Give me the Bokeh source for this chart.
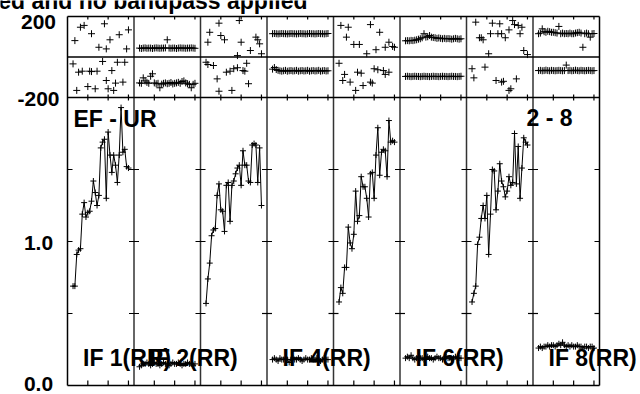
from bokeh.plotting import figure
from bokeh.models import Range1d, Label
from bokeh.embed import file_html
from bokeh.resources import INLINE

# ------------------------------------------------------------------ data
IF_NUMBERS = [1, 2, 3, 4, 5, 6, 7, 8]
CHANNELS = list(range(3, 34))          # channels plotted in every IF
PANEL_CH = 36                          # channel units spanned by one IF panel
CH_TICKS = [11, 22, 33]
AMP_TICKS = [0.5, 1.0, 1.5]
AMP_MAX = 2.0
AMP_LABEL_VALUES = [0.0, 1.0]
AMP_LABELS = ["0.0", "1.0"]
PHASE_MIN, PHASE_MAX = -200, 200
PHASE_LABEL_VALUES = [200, -200]
PHASE_LABELS = ["200", "-200"]

TITLE = "ed and no bandpass applied"
BASELINE = "EF - UR"
TIMERANGE = "2 - 8"
IF_LABEL_IFS = [1, 2, 4, 6, 8]
IF_LABELS = ["IF 1(RR)", "IF 2(RR)", "IF 4(RR)", "IF 6(RR)", "IF 8(RR)"]

# amplitudes, channels 3..33
amp_if1 = [0.69, 0.69, 0.91, 0.94, 0.95, 1.19, 1.27, 1.17, 1.20, 1.21, 1.28, 1.42, 1.34, 1.25, 1.32, 1.65,
           1.69, 1.71, 1.30, 1.76, 1.60, 1.48, 1.60, 1.53, 1.41, 1.60, 1.93, 1.62, 1.64, 1.52, 1.51]
amp_if2 = [0.13, 0.14, 0.15, 0.15, 0.16, 0.15, 0.14, 0.15, 0.16, 0.15, 0.15, 0.14, 0.15, 0.16, 0.15, 0.15,
           0.14, 0.15, 0.16, 0.15, 0.15, 0.16, 0.15, 0.14, 0.15, 0.15, 0.16, 0.15, 0.15, 0.14, 0.15]
amp_if3 = [0.57, 0.74, 0.85, 1.04, 1.08, 1.09, 1.32, 1.40, 1.22, 1.21, 1.07, 1.39, 1.41, 1.14, 1.39, 1.42,
           1.47, 1.51, 1.53, 1.39, 1.63, 1.53, 1.53, 1.42, 1.41, 1.67, 1.68, 1.67, 1.41, 1.65, 1.25]
amp_if4 = [0.18, 0.19, 0.18, 0.17, 0.19, 0.18, 0.18, 0.19, 0.18, 0.16, 0.18, 0.19, 0.18, 0.18, 0.19, 0.18,
           0.17, 0.18, 0.19, 0.18, 0.18, 0.19, 0.18, 0.18, 0.19, 0.18, 0.17, 0.18, 0.19, 0.18, 0.18]
amp_if5 = [0.58, 0.68, 0.64, 0.82, 0.82, 1.10, 0.99, 0.95, 1.05, 1.35, 1.14, 1.18, 1.45, 1.38, 1.38, 1.30,
           1.17, 1.47, 1.48, 1.30, 1.60, 1.79, 1.46, 1.62, 1.64, 1.63, 1.45, 1.84, 1.69, 1.70, 1.69]
amp_if6 = [0.19, 0.20, 0.19, 0.21, 0.19, 0.18, 0.19, 0.20, 0.19, 0.19, 0.18, 0.19, 0.20, 0.19, 0.19, 0.18,
           0.19, 0.20, 0.19, 0.19, 0.18, 0.19, 0.20, 0.19, 0.19, 0.18, 0.19, 0.20, 0.19, 0.19, 0.19]
amp_if7 = [0.58, 0.64, 0.69, 0.98, 1.03, 1.16, 1.25, 1.16, 1.32, 0.91, 1.19, 1.50, 1.49, 1.22, 1.35, 1.54,
           1.42, 1.38, 1.31, 1.35, 1.45, 1.39, 1.41, 1.75, 1.40, 1.66, 1.30, 1.51, 1.72, 1.69, 1.67]
amp_if8 = [0.26, 0.27, 0.26, 0.27, 0.27, 0.28, 0.27, 0.28, 0.28, 0.27, 0.28, 0.29, 0.28, 0.30, 0.28, 0.27,
           0.28, 0.27, 0.28, 0.27, 0.27, 0.28, 0.27, 0.27, 0.26, 0.27, 0.27, 0.26, 0.27, 0.27, 0.26]

# phases (degrees): upper and lower traces of the phase strip
ph_up_ch_if1 = [4, 7, 9, 13, 17, 20, 21, 23, 28, 32, 33]
ph_up_if1 = [81, 147, 156, 115, 48, 164, 40, 85, 110, 40, 134]
ph_lo_ch_if1 = [3, 5, 6, 8, 11, 12, 13, 15, 16, 19, 21, 22, 24, 25, 26, 27, 30, 31]
ph_lo_if1 = [-34, -165, -75, -70, -146, -70, -72, -157, -70, -22, -116, -157, -67, -165, -129, -26, -124, -26]

ph_up_if2 = [44, 42, 44, 45, 43, 44, 44, 42, 44, 45, 44, 43, 44, 44, 45, 85,
             44, 43, 44, 44, 42, 44, 45, 44, 44, 43, 44, 44, 45, 44, 43]
ph_lo_if2 = [-128, -130, -103, -118, -125, -130, -95, -83, -128, -132, -130, -152, -134, -130, -128, -132,
             -130, -126, -133, -130, -128, -125, -130, -121, -118, -128, -132, -135, -152, -135, -130]

ph_up_ch_if3 = [4, 5, 10, 11, 13, 20, 21, 22, 27, 30, 31, 32, 33]
ph_up_if3 = [73, 122, 167, 106, 85, 7, 180, 73, 32, 98, 85, 65, 16]
ph_lo_ch_if3 = [3, 4, 7, 9, 10, 14, 16, 17, 18, 20, 23, 24, 25, 26]
ph_lo_if3 = [-26, -37, -42, -108, -169, -75, -70, -165, -58, -53, -67, -70, -31, -132]

ph_up_if4 = [115, 116, 115, 114, 115, 116, 115, 115, 114, 115, 116, 115, 115, 114, 115, 116,
             115, 115, 114, 115, 116, 115, 115, 114, 115, 116, 115, 115, 114, 115, 116]
ph_lo_if4 = [-60, -52, -62, -66, -68, -70, -68, -66, -70, -68, -67, -69, -68, -66, -70, -68,
             -67, -69, -68, -66, -70, -68, -67, -69, -68, -66, -70, -68, -67, -69, -68]

ph_up_ch_if5 = [4, 7, 8, 11, 14, 18, 20, 23, 25, 28, 30, 32, 33]
ph_up_if5 = [156, 98, 147, 62, 62, 16, 160, 36, 122, 48, 73, 52, 48]
ph_lo_ch_if5 = [3, 5, 6, 9, 12, 13, 15, 16, 20, 21, 22, 24, 27, 28, 30]
ph_lo_if5 = [-31, -116, -86, -124, -165, -75, -80, -141, -124, -129, -58, -63, -67, -86, -75]

ph_up_if6 = [80, 81, 80, 82, 81, 83, 85, 88, 90, 95, 115, 98, 100, 106, 98, 96,
             95, 92, 94, 92, 90, 92, 90, 91, 90, 88, 90, 92, 90, 88, 90]
ph_lo_if6 = [-96, -95, -96, -97, -96, -95, -96, -96, -97, -96, -95, -96, -96, -97, -96, -95,
             -96, -96, -97, -96, -95, -96, -96, -97, -96, -95, -96, -96, -97, -96, -95]

ph_up_ch_if7 = [5, 7, 8, 9, 12, 13, 14, 17, 18, 19, 21, 23, 25, 26, 28, 29, 30, 31, 33]
ph_up_if7 = [172, 95, 95, 85, 16, 115, 167, 115, 164, 115, 95, 134, 180, 160, 156, 115, 147, 32, 12]
ph_lo_ch_if7 = [3, 4, 10, 16, 19, 20, 23, 24, 27]
ph_lo_if7 = [-58, -103, -50, -116, -124, -120, -165, -157, -108]

ph_up_if8 = [115, 118, 139, 125, 122, 127, 125, 122, 122, 120, 118, 151, 115, 118, 115, 116,
             115, 118, 115, 115, 118, 120, 122, 118, 48, 115, 118, 115, 98, 115, 116]
ph_lo_if8 = [-67, -66, -68, -67, -65, -67, -68, -66, -67, -68, -67, -66, -67, -68, -67, -40,
             -67, -66, -68, -67, -65, -67, -68, -66, -67, -68, -67, -66, -67, -68, -67]

AMPS = [amp_if1, amp_if2, amp_if3, amp_if4, amp_if5, amp_if6, amp_if7, amp_if8]
PHASE_UP = [(ph_up_ch_if1, ph_up_if1), (CHANNELS, ph_up_if2), (ph_up_ch_if3, ph_up_if3), (CHANNELS, ph_up_if4),
            (ph_up_ch_if5, ph_up_if5), (CHANNELS, ph_up_if6), (ph_up_ch_if7, ph_up_if7), (CHANNELS, ph_up_if8)]
PHASE_LO = [(ph_lo_ch_if1, ph_lo_if1), (CHANNELS, ph_lo_if2), (ph_lo_ch_if3, ph_lo_if3), (CHANNELS, ph_lo_if4),
            (ph_lo_ch_if5, ph_lo_if5), (CHANNELS, ph_lo_if6), (ph_lo_ch_if7, ph_lo_if7), (CHANNELS, ph_lo_if8)]

# ------------------------------------------------------------------ layout (pixels)
W, H = 640, 394
BOX_L, BOX_R, BOX_T, BOX_B = 67, 599, 16, 385     # the panel box inside the canvas
PHASE_PX = 81                                      # height of the phase strip
N_IF = len(IF_NUMBERS)
X_END = N_IF * PANEL_CH
AMP_PX = (BOX_B - BOX_T) - PHASE_PX
PX_PER_CH = (BOX_R - BOX_L) / X_END
PX_PER_AMP = AMP_PX / AMP_MAX
Y_TOP = AMP_MAX + PHASE_PX / PX_PER_AMP
DEG_PER_UNIT = (PHASE_MAX - PHASE_MIN) / (Y_TOP - AMP_MAX)

x_lo = -BOX_L / PX_PER_CH
x_hi = X_END + (W - BOX_R) / PX_PER_CH
y_lo = -(H - BOX_B) / PX_PER_AMP
y_hi = Y_TOP + BOX_T / PX_PER_AMP

FONT_NAME = "Liberation Sans"

p = figure(width=W, height=H, output_backend="svg", toolbar_location=None,
           x_range=Range1d(x_lo, x_hi), y_range=Range1d(y_lo, y_hi),
           x_axis_location=None, y_axis_location=None, min_border=0)
p.extra_y_ranges = {"phase": Range1d(PHASE_MIN + (y_lo - AMP_MAX) * DEG_PER_UNIT,
                                     PHASE_MIN + (y_hi - AMP_MAX) * DEG_PER_UNIT)}
p.xgrid.visible = False
p.ygrid.visible = False
p.outline_line_color = None
p.background_fill_color = "white"
p.border_fill_color = "white"

# panel box, separators and strip borders
sep_x = [k * PANEL_CH for k in range(1, N_IF)]
p.segment(x0=sep_x, x1=sep_x, y0=[0] * len(sep_x), y1=[Y_TOP] * len(sep_x),
          line_color="#333333", line_width=1.5)
p.segment(x0=[0, X_END, 0, 0, 0], x1=[0, X_END, X_END, X_END, X_END],
          y0=[0, 0, 0, AMP_MAX, Y_TOP], y1=[Y_TOP, Y_TOP, 0, AMP_MAX, Y_TOP],
          line_color="black", line_width=1.5)
p.segment(x0=[0], x1=[X_END], y0=[0], y1=[0], y_range_name="phase", line_color="black", line_width=1.5)

# tick marks
TICK = 5
hx0, hx1, hy = [], [], []
for b in range(N_IF + 1):
    xb = b * PANEL_CH
    left = 0 if b == 0 else TICK / PX_PER_CH
    right = 0 if b == N_IF else TICK / PX_PER_CH
    for v in AMP_TICKS:
        hx0.append(xb - left)
        hx1.append(xb + right)
        hy.append(v)
p.segment(x0=hx0, x1=hx1, y0=hy, y1=hy, line_color="black", line_width=1.2)
vx, vy0, vy1 = [], [], []
for k in range(N_IF):
    for c in CH_TICKS:
        x = k * PANEL_CH + c
        vx += [x, x, x]
        vy0 += [AMP_MAX - 3 / PX_PER_AMP, 0, Y_TOP - 3 / PX_PER_AMP]
        vy1 += [AMP_MAX + 3 / PX_PER_AMP, TICK / PX_PER_AMP, Y_TOP]
p.segment(x0=vx, x1=vx, y0=vy0, y1=vy1, line_color="black", line_width=1.2)

# data
for k in range(N_IF):
    off = k * PANEL_CH
    xs = [off + c for c in CHANNELS]
    p.line(xs, AMPS[k], line_color="black", line_width=1)
    p.scatter(xs, AMPS[k], marker="cross", size=6, line_color="black", line_width=1)
    for chs, ph in (PHASE_UP[k], PHASE_LO[k]):
        p.scatter([off + c for c in chs], ph, y_range_name="phase", marker="cross",
                  size=7, line_color="black", line_width=1)

# texts (Label y_offset: positive = up; CORR compensates baseline placement)
lab_kw = dict(text_font=FONT_NAME, text_font_style="bold", text_color="black",
              text_baseline="alphabetic")
CORR = 6
for v, t, dy in zip(AMP_LABEL_VALUES, AMP_LABELS, [-4.5, -7.5]):
    p.add_layout(Label(x=0, y=v, text=t, x_offset=-29, y_offset=dy + CORR, text_align="center",
                       text_font_size="21px", **lab_kw))
for v, t, dy in zip(PHASE_LABEL_VALUES, PHASE_LABELS, [-11, -7.5]):
    p.add_layout(Label(x=0, y=v, text=t, y_range_name="phase", x_offset=-29, y_offset=dy + CORR,
                       text_align="center", text_font_size="21px", **lab_kw))
for i, t in zip(IF_LABEL_IFS, IF_LABELS):
    p.add_layout(Label(x=(i - 1) * PANEL_CH, y=0, text=t, x_offset=15.5, y_offset=22 + CORR,
                       text_align="left", text_font_size="23px", **lab_kw))

p.add_layout(Label(x=0, y=AMP_MAX, text=BASELINE, x_offset=6, y_offset=-27.5 + CORR,
                   text_align="left", text_font_size="23px", **lab_kw))
p.add_layout(Label(x=X_END, y=AMP_MAX, text=TIMERANGE, x_offset=-27, y_offset=-26.5 + CORR,
                   text_align="right", text_font_size="23px", **lab_kw))
p.add_layout(Label(x=0, y=Y_TOP, text=TITLE, x_offset=240, y_offset=9.5 + CORR,
                   text_align="right", text_font_size="23px", **lab_kw))

open("out.html", "w").write(file_html(p, INLINE))
